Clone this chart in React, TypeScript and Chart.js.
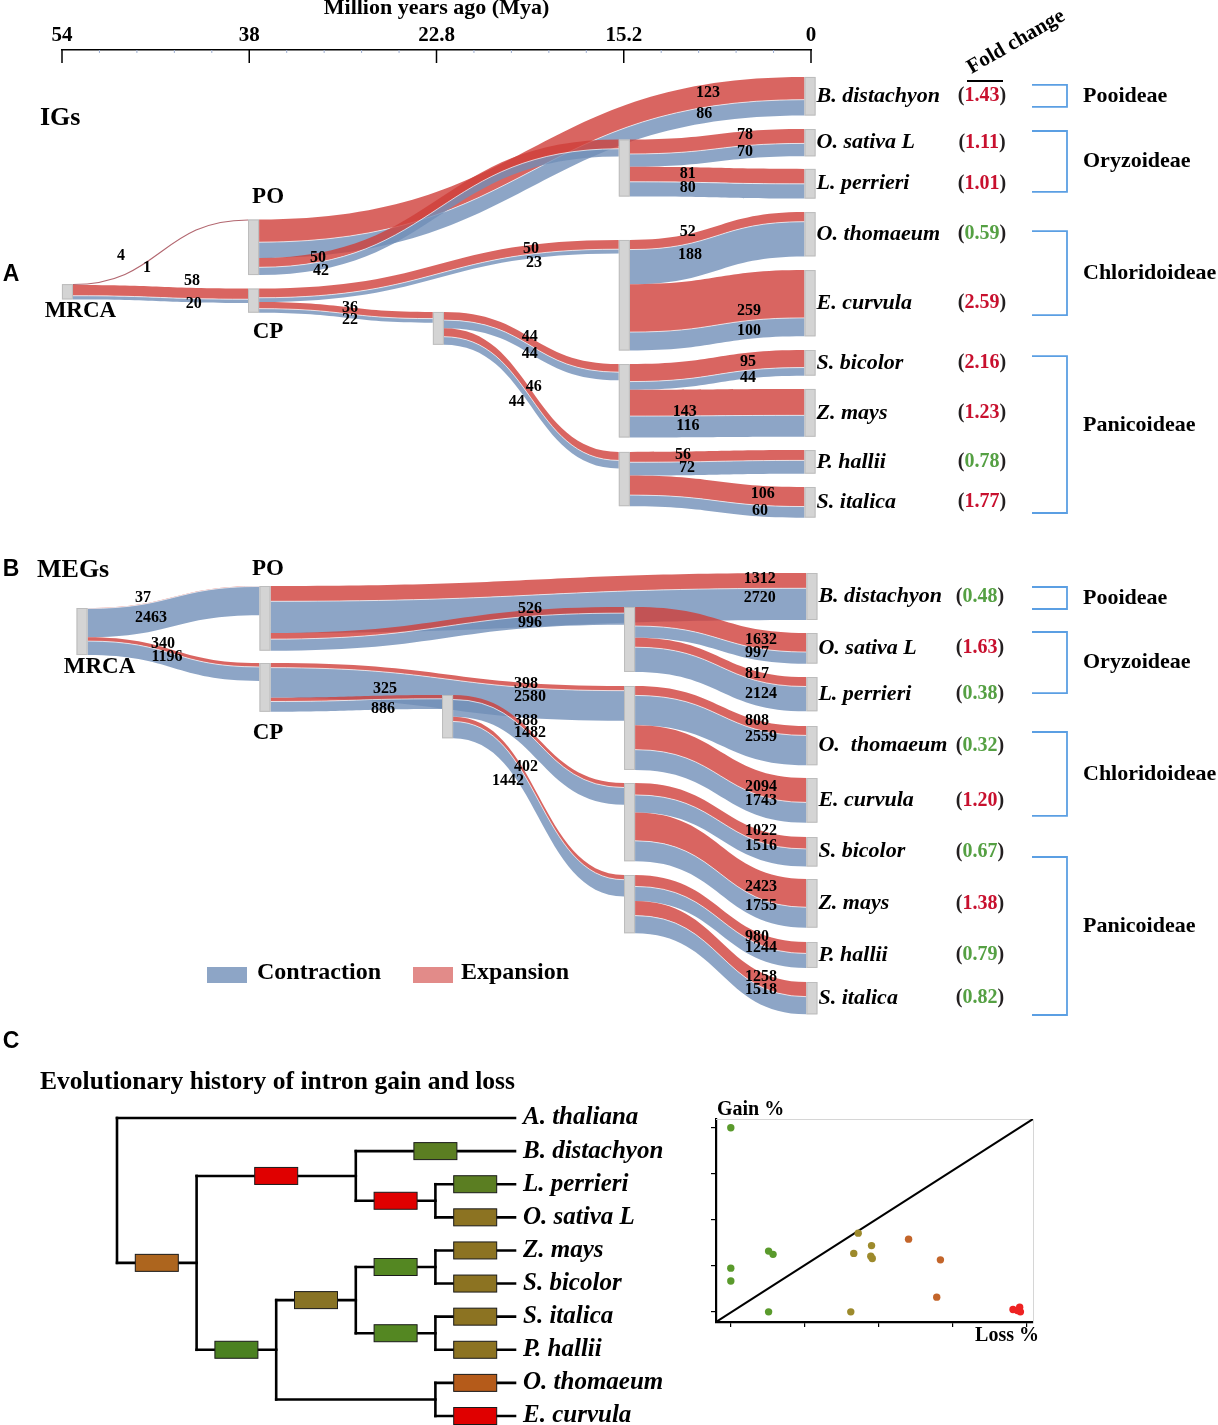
import React, { useEffect, useRef } from 'react';
import { Chart, registerables } from 'chart.js';

Chart.register(...registerables);

const SERIF = '"Liberation Serif", "Times New Roman", Times, serif';
const SANS = '"Liberation Sans", Arial, Helvetica, sans-serif';

// ---------------- shared topology of panels A and B ----------------
const timeTickLabels = ['54', '38', '22.8', '15.2', '0'];
const nodeNames = ['MRCA', 'PO', 'CP', 'N22', 'ORY', 'CHL', 'PAN1', 'PAN2',
  'Bdi', 'Osa', 'Lpe', 'Oth', 'Ecu', 'Sbi', 'Zma', 'Pha', 'Sit'];
const nodeColumn = [0, 1, 1, 2, 3, 3, 3, 3, 4, 4, 4, 4, 4, 4, 4, 4, 4];
const linkSource = [0, 0, 1, 1, 2, 2, 4, 4, 5, 5, 3, 3, 6, 6, 7, 7];
const linkTarget = [1, 2, 8, 4, 5, 3, 9, 10, 11, 12, 6, 7, 13, 14, 15, 16];
const speciesNames = ['B. distachyon', 'O. sativa L', 'L. perrieri', 'O. thomaeum', 'E. curvula',
  'S. bicolor', 'Z. mays', 'P. hallii', 'S. italica'];
const megSpeciesNames = ['B. distachyon', 'O. sativa L', 'L. perrieri', 'O.  thomaeum', 'E. curvula',
  'S. bicolor', 'Z. mays', 'P. hallii', 'S. italica'];
const subfamilies = ['Pooideae', 'Oryzoideae', 'Chloridoideae', 'Panicoideae'];
const subfamilyFirst = [0, 1, 3, 5];
const subfamilyLast = [0, 2, 4, 8];

// ---------------- panel A: IGs ----------------
const igExpansion = [4, 58, 123, 50, 50, 36, 78, 81, 52, 259, 44, 46, 95, 143, 56, 106];
const igContraction = [1, 20, 86, 42, 23, 22, 70, 80, 188, 100, 44, 44, 44, 116, 72, 60];
const igFoldChange = [1.43, 1.11, 1.01, 0.59, 2.59, 2.16, 1.23, 0.78, 1.77];
// node tops, in gene-count units of the panel's y scale
const igNodeTop = [1268, 918, 1292, 1419, 485, 1029, 1701, 2177, 146, 428, 644, 878, 1192, 1625, 1836, 2167, 2367];

// ---------------- panel B: MEGs ----------------
const megExpansion = [37, 340, 1312, 526, 398, 325, 1632, 817, 808, 2094, 388, 402, 1022, 2423, 980, 1258];
const megContraction = [2463, 1196, 2720, 996, 2580, 886, 997, 2124, 2559, 1743, 1482, 1442, 1516, 1755, 1244, 1518];
const megFoldChange = [0.48, 1.63, 0.38, 0.32, 1.20, 0.67, 1.38, 0.79, 0.82];
const megNodeTop = [6692, 4805, 11411, 14157, 6607, 13385, 21707, 29601, 3689, 8837, 12613, 16817, 21278, 26341, 29944, 35350, 38782];

// label placement along each link: [fraction red, dy red, fraction blue, dy blue]
const igLabelPos = [
  [0.274, -21, 0.423, 6], [0.68, -17.5, 0.69, 5.4], [0.823, -13.8, 0.816, 6.5], [0.164, -4, 0.172, 9.4],
  [0.756, -5, 0.764, 9.2], [0.523, -6, 0.523, 6], [0.659, -10.7, 0.659, 6.3], [0.332, -8.2, 0.332, 5.8],
  [0.332, -12, 0.344, 11.6], [0.682, -9.4, 0.682, 10.6], [0.491, -8, 0.491, 9], [0.514, -15, 0.417, 23],
  [0.676, -8.2, 0.676, 7.8], [0.315, -3.8, 0.332, 10.2], [0.304, -7, 0.327, 6], [0.761, -11.5, 0.745, 5.6],
];
const megLabelPos = [
  [0.323, -6.3, 0.369, 15.3], [0.439, -6.9, 0.462, 4.9], [0.913, -9.6, 0.913, 9.4], [0.734, -7.6, 0.734, 6.4],
  [0.723, -3.5, 0.734, 9.3], [0.668, -10.3, 0.656, 9.7], [0.735, -9.5, 0.711, 4.8], [0.711, -6.7, 0.735, 12.4],
  [0.711, -8.5, 0.735, 6.6], [0.735, -8.8, 0.735, 5.2], [0.427, -9.9, 0.45, -1.7], [0.427, -11, 0.322, 29.4],
  [0.735, -11.2, 0.735, 3.8], [0.735, -11.9, 0.735, 7.1], [0.711, -6.5, 0.735, 3], [0.735, -9.6, 0.735, 3.4],
];

// ---------------- panel C: tree ----------------
const treeLeafNames = ['A. thaliana', 'B. distachyon', 'L. perrieri', 'O. sativa L', 'Z. mays',
  'S. bicolor', 'S. italica', 'P. hallii', 'O. thomaeum', 'E. curvula'];
const leafParent = [0, 2, 4, 4, 6, 6, 7, 7, 8, 8];
const cladeParent = [-1, 0, 1, 1, 2, 3, 5, 5, 3];
const cladeDepth = [0, 1, 3, 2, 4, 3, 4, 4, 4];
const LEAF_DEPTH = 5;
const cladeBoxColor = [null, '#ad651e', '#e00000', '#4b8121', '#e00000', '#887325', '#548722', '#548722', null];
const leafBoxColor = [null, '#5b7e22', '#5b7e22', '#8c7322', '#8c7322', '#8c7322', '#8c7322', '#8c7322', '#b55b1a', '#e00000'];

// ---------------- panel C: scatter ----------------
const lossPct = [0, 0, 0, 0.51, 0.57, 0.51, 1.72, 1.66, 1.90, 1.89, 1.91, 1.62, 2.40, 2.83, 2.78, 3.81, 3.90, 3.91, 3.87];
const gainPct = [4.0, 0.95, 0.67, 1.32, 1.25, 0, 1.71, 1.27, 1.44, 1.21, 1.16, 0, 1.58, 1.13, 0.32, 0.05, 0.10, 0, 0.03];
const pointGroup = ['g', 'g', 'g', 'g', 'g', 'g', 'o', 'o', 'o', 'o', 'o', 'o', 'r', 'r', 'r', 'x', 'x', 'x', 'x'];
const LOSS_MIN = -0.2, LOSS_MAX = 4.08, GAIN_MIN = -0.22, GAIN_MAX = 4.19;

// ---------------- styles ----------------
const RED_BAND = 'rgba(207, 62, 58, 0.8)';
const BLUE_BAND = 'rgba(112, 142, 184, 0.8)';
const THIN_LINK = 'rgba(170, 85, 95, 0.9)';
const NODE_FILL = '#d4d4d4';
const NODE_EDGE = '#bdbdbd';
const UP_RED = '#c8102e';
const DOWN_GREEN = '#55a043';
const BRACKET = '#5b9fe3';
const NODE_W = 11;
const groupColor: Record<string, string> = { g: '#5a9a2c', o: '#9d8a2c', r: '#c3652a', x: '#ee2222' };

function solveT(f: number) {
  let lo = 0, hi = 1;
  for (let k = 0; k < 40; k++) {
    const m = (lo + hi) / 2;
    const g = 1.5 * m - 1.5 * m * m + m * m * m;
    if (g < f) lo = m; else hi = m;
  }
  return (lo + hi) / 2;
}
function curveAt(f: number, y0: number, y1: number) {
  const t = solveT(f);
  return y0 + (y1 - y0) * (3 * t * t - 2 * t * t * t);
}
function ribbon(ctx: CanvasRenderingContext2D, x0: number, x1: number, t0: number, t1: number, b0: number, b1: number, color: string) {
  const xm = (x0 + x1) / 2;
  ctx.beginPath();
  ctx.moveTo(x0, t0);
  ctx.bezierCurveTo(xm, t0, xm, t1, x1, t1);
  ctx.lineTo(x1, b1);
  ctx.bezierCurveTo(xm, b1, xm, b0, x0, b0);
  ctx.closePath();
  ctx.fillStyle = color;
  ctx.fill();
}
function txt(ctx: CanvasRenderingContext2D, s: string, x: number, y: number, font: string, color = '#000', align: CanvasTextAlign = 'left') {
  ctx.font = font;
  ctx.fillStyle = color;
  ctx.textAlign = align;
  ctx.textBaseline = 'middle';
  ctx.fillText(s, x, y);
}

interface Panel {
  exp: number[]; con: number[]; fold: number[]; nodeTop: number[]; colX: number[]; yMax: number;
  labelPos: number[][]; species: string[]; foldX: number; bracketOff: number[][]; groupDy: number[];
  nodeLabels: number[][]; tag: string; tagY: number; title: string; titleX: number; titleY: number;
  showAxis: boolean; legendY: number | null; foldHeader: boolean;
}

const panelA: Panel = {
  exp: igExpansion, con: igContraction, fold: igFoldChange, nodeTop: igNodeTop,
  colX: [0.029, 1.023, 2.01, 3.003, 3.995], yMax: 2600, labelPos: igLabelPos, species: speciesNames,
  foldX: 982, bracketOff: [[-11.3, 10.7], [-11.7, 8.1], [-3.2, 11.9], [-6.8, 10.7]], groupDy: [0, 0, 0, -9.5],
  nodeLabels: [[1, 14.5, -22.5, 0], [2, 14.5, 19.3, 1], [0, 13, 11.5, 1]],
  tag: 'A', tagY: 275, title: 'IGs', titleX: 40, titleY: 118, showAxis: true, legendY: null, foldHeader: true,
};
const panelB: Panel = {
  exp: megExpansion, con: megContraction, fold: megFoldChange, nodeTop: megNodeTop,
  colX: [0.107, 1.084, 2.059, 3.031, 4.005], yMax: 42900, labelPos: megLabelPos, species: megSpeciesNames,
  foldX: 980, bracketOff: [[-9.5, 12.5], [-16.3, -1.1], [-13.6, 15.6], [5.2, 16.8]], groupDy: [0, 0, 0, -10],
  nodeLabels: [[1, 3, -17, 0], [2, 3, 21, 1], [0, 17.5, 12, 1]],
  tag: 'B', tagY: 40, title: 'MEGs', titleX: 37, titleY: 40, showAxis: false, legendY: 445, foldHeader: false,
};

function sankeyPlugin(p: Panel) {
  return {
    id: 'sankeyDraw',
    afterDraw(chart: any) {
      const ctx: CanvasRenderingContext2D = chart.ctx;
      const xs = chart.scales.x, ys = chart.scales.y;
      const X = (c: number) => xs.getPixelForValue(p.colX[c]);
      const Y = (v: number) => ys.getPixelForValue(v);
      const n = nodeNames.length;
      const total = p.exp.map((e, i) => e + p.con[i]);
      const inSum = new Array(n).fill(0), outSum = new Array(n).fill(0);
      linkSource.forEach((s, i) => { outSum[s] += total[i]; inSum[linkTarget[i]] += total[i]; });
      const size = inSum.map((v, i) => Math.max(v, outSum[i]));
      const outOff = new Array(n).fill(0), inOff = new Array(n).fill(0);
      ctx.save();

      if (p.showAxis) {
        const yAxis = chart.chartArea.top;
        ctx.strokeStyle = '#000';
        ctx.lineWidth = 1.5;
        for (let v = 0; v <= 4; v++) {
          const x = xs.getPixelForValue(v);
          ctx.beginPath(); ctx.moveTo(x, yAxis); ctx.lineTo(x, yAxis + 13); ctx.stroke();
        }
        ctx.strokeStyle = '#9fb0d2';
        ctx.lineWidth = 1;
        for (let k = 1; k < 20; k++) {
          if (k % 5 === 0) continue;
          const x = xs.getPixelForValue(k / 5);
          ctx.beginPath(); ctx.moveTo(x, yAxis); ctx.lineTo(x, yAxis + 3); ctx.stroke();
        }
      }

      const labels: [string, number, number][] = [];
      linkSource.forEach((s, i) => {
        const t = linkTarget[i];
        const sTop = p.nodeTop[s] + outOff[s]; outOff[s] += total[i];
        const tTop = p.nodeTop[t] + inOff[t]; inOff[t] += total[i];
        const x0 = X(nodeColumn[s]) + NODE_W / 2, x1 = X(nodeColumn[t]) - NODE_W / 2;
        const xm = (x0 + x1) / 2;
        const a0 = Y(sTop), b0 = Y(sTop + p.exp[i]), c0 = Y(sTop + total[i]);
        const a1 = Y(tTop), b1 = Y(tTop + p.exp[i]), c1 = Y(tTop + total[i]);
        if (c0 - a0 < 1.6) {
          const m0 = (a0 + c0) / 2, m1 = (a1 + c1) / 2;
          ctx.beginPath(); ctx.moveTo(x0, m0); ctx.bezierCurveTo(xm, m0, xm, m1, x1, m1);
          ctx.strokeStyle = THIN_LINK; ctx.lineWidth = 1.1; ctx.stroke();
        } else {
          ribbon(ctx, x0, x1, a0, a1, b0, b1, RED_BAND);
          ribbon(ctx, x0, x1, b0, b1, c0, c1, BLUE_BAND);
          ctx.beginPath(); ctx.moveTo(x0, b0); ctx.bezierCurveTo(xm, b0, xm, b1, x1, b1);
          ctx.strokeStyle = 'rgba(255,255,255,0.75)'; ctx.lineWidth = 0.9; ctx.stroke();
        }
        const lp = p.labelPos[i];
        labels.push([String(p.exp[i]), x0 + lp[0] * (x1 - x0), curveAt(lp[0], b0, b1) + lp[1]]);
        labels.push([String(p.con[i]), x0 + lp[2] * (x1 - x0), curveAt(lp[2], b0, b1) + lp[3]]);
      });

      // nodes
      for (let i = 0; i < n; i++) {
        const x = X(nodeColumn[i]) - NODE_W / 2;
        const y = Y(p.nodeTop[i]);
        const h = Y(p.nodeTop[i] + size[i]) - y;
        ctx.fillStyle = NODE_FILL;
        ctx.fillRect(x, y, NODE_W, h);
        ctx.strokeStyle = NODE_EDGE; ctx.lineWidth = 1;
        ctx.strokeRect(x + 0.5, y + 0.5, NODE_W - 1, h - 1);
      }

      // value labels
      labels.forEach(([s, x, y]) => txt(ctx, s, x, y, `bold 16px ${SERIF}`, '#000', 'center'));

      // internal node names
      p.nodeLabels.forEach(([node, dx, dy, below]) => {
        const cx = X(nodeColumn[node]) + dx;
        const yRef = below ? Y(p.nodeTop[node] + size[node]) : Y(p.nodeTop[node]);
        txt(ctx, nodeNames[node], cx, yRef + dy, `bold 23px ${SERIF}`, '#000', 'center');
      });

      // species, fold change
      const leafX = X(4) + NODE_W / 2 + 1;
      const centers: number[] = [];
      p.species.forEach((name, j) => {
        const node = 8 + j;
        const cy = Y(p.nodeTop[node] + size[node] / 2);
        centers.push(cy);
        txt(ctx, name, leafX, cy, `italic bold 22px ${SERIF}`);
        const v = p.fold[j].toFixed(2);
        ctx.font = `bold 20px ${SERIF}`;
        const wl = ctx.measureText('(').width, wv = ctx.measureText(v).width, wr = ctx.measureText(')').width;
        const x = p.foldX - (wl + wv + wr) / 2;
        txt(ctx, '(', x, cy, `bold 20px ${SERIF}`, '#231f20');
        txt(ctx, v, x + wl, cy, `bold 20px ${SERIF}`, p.fold[j] >= 1 ? UP_RED : DOWN_GREEN);
        txt(ctx, ')', x + wl + wv, cy, `bold 20px ${SERIF}`, '#231f20');
      });

      // brackets
      subfamilies.forEach((g, k) => {
        const yTop = centers[subfamilyFirst[k]] + p.bracketOff[k][0];
        const yBot = centers[subfamilyLast[k]] + p.bracketOff[k][1];
        ctx.strokeStyle = BRACKET; ctx.lineWidth = 1.8;
        ctx.beginPath();
        ctx.moveTo(1032, yTop); ctx.lineTo(1067, yTop); ctx.lineTo(1067, yBot); ctx.lineTo(1032, yBot);
        ctx.stroke();
        txt(ctx, g, 1083, (yTop + yBot) / 2 + p.groupDy[k], `bold 22px ${SERIF}`);
      });

      // headers
      txt(ctx, p.tag, 11, p.tagY, `bold 23px ${SANS}`, '#000', 'center');
      txt(ctx, p.title, p.titleX, p.titleY, `bold 26px ${SERIF}`);

      if (p.foldHeader) {
        ctx.save();
        ctx.translate(1016, 42);
        ctx.rotate(-30 * Math.PI / 180);
        txt(ctx, 'Fold change', 0, 0, `bold 21px ${SERIF}`, '#000', 'center');
        ctx.restore();
        ctx.strokeStyle = '#000'; ctx.lineWidth = 2;
        ctx.beginPath(); ctx.moveTo(967, 81); ctx.lineTo(1003, 81); ctx.stroke();
      }

      if (p.legendY !== null) {
        const ly = p.legendY;
        ctx.fillStyle = BLUE_BAND; ctx.fillRect(207, ly - 8, 40, 16);
        txt(ctx, 'Contraction', 257, ly - 2, `bold 24px ${SERIF}`);
        ctx.fillStyle = 'rgba(207, 62, 58, 0.6)'; ctx.fillRect(413, ly - 8, 40, 16);
        txt(ctx, 'Expansion', 461, ly - 2, `bold 24px ${SERIF}`);
      }
      ctx.restore();
    },
  };
}

function sankeyConfig(p: Panel): any {
  const x: any = {
    type: 'linear', position: 'top', min: 0, max: 4, display: p.showAxis,
    grid: { display: false, drawTicks: false },
    border: { display: true, color: '#000', width: 1.5 },
    ticks: {
      stepSize: 1, autoSkip: false, maxRotation: 0, padding: 2, color: '#000',
      font: { family: SERIF, size: 21, weight: 'bold' },
      callback: (v: number) => (Number.isInteger(v) ? timeTickLabels[v] : ''),
    },
    title: {
      display: true, text: 'Million years ago (Mya)', color: '#000',
      font: { family: SERIF, size: 22, weight: 'bold' }, padding: { top: -5, bottom: 0 },
    },
  };
  if (p.showAxis) x.afterFit = (s: any) => { s.height = 50; };
  return {
    type: 'scatter',
    data: { datasets: [] },
    options: {
      responsive: false, animation: false,
      layout: { padding: { left: 62, right: 407, top: 0, bottom: 0 } },
      plugins: { legend: { display: false }, tooltip: { enabled: false } },
      scales: {
        x,
        y: { type: 'linear', display: false, reverse: true, min: 0, max: p.yMax },
      },
    },
    plugins: [sankeyPlugin(p)],
  };
}

const treePlugin = {
  id: 'treeDraw',
  afterDraw(chart: any) {
    const ctx: CanvasRenderingContext2D = chart.ctx;
    const xs = chart.scales.x, ys = chart.scales.y;
    const X = (d: number) => xs.getPixelForValue(d);
    const Y = (v: number) => ys.getPixelForValue(v);
    const nC = cladeParent.length;
    const cladeRow = new Array(nC).fill(0);
    const kidsRows: number[][] = Array.from({ length: nC }, () => []);
    const rowOf = (c: number): number => {
      const rows: number[] = [];
      leafParent.forEach((par, j) => { if (par === c) rows.push(j); });
      cladeParent.forEach((par, k) => { if (par === c) rows.push(rowOf(k)); });
      kidsRows[c] = rows;
      cladeRow[c] = rows.reduce((a, b) => a + b, 0) / rows.length;
      return cladeRow[c];
    };
    rowOf(0);
    ctx.save();
    ctx.strokeStyle = '#000';
    ctx.lineWidth = 2.6;
    ctx.lineCap = 'square';
    const boxes: [number, number, string][] = [];
    const branch = (d0: number, d1: number, row: number, color: string | null) => {
      const y = Y(row);
      ctx.beginPath(); ctx.moveTo(X(d0), y); ctx.lineTo(X(d1), y); ctx.stroke();
      if (color) boxes.push([(X(d0) + X(d1)) / 2, y, color]);
    };
    for (let k = 0; k < nC; k++) {
      const rows = kidsRows[k];
      const x = X(cladeDepth[k]);
      ctx.beginPath(); ctx.moveTo(x, Y(Math.min(...rows))); ctx.lineTo(x, Y(Math.max(...rows))); ctx.stroke();
      if (cladeParent[k] >= 0) branch(cladeDepth[cladeParent[k]], cladeDepth[k], cladeRow[k], cladeBoxColor[k]);
    }
    treeLeafNames.forEach((name, j) => {
      branch(cladeDepth[leafParent[j]], LEAF_DEPTH, j, leafBoxColor[j]);
      txt(ctx, name, X(LEAF_DEPTH) + 8, Y(j), `italic bold 25px ${SERIF}`);
    });
    boxes.forEach(([cx, cy, color]) => {
      ctx.fillStyle = color;
      ctx.fillRect(cx - 21.5, cy - 8.5, 43, 17);
      ctx.strokeStyle = '#1a1a1a'; ctx.lineWidth = 1;
      ctx.strokeRect(cx - 21.5, cy - 8.5, 43, 17);
    });
    txt(ctx, 'C', 11, 12, `bold 23px ${SANS}`, '#000', 'center');
    const title = 'Evolutionary history of intron gain and loss';
    ctx.font = `bold 26px ${SERIF}`;
    const w = ctx.measureText(title).width;
    ctx.save();
    ctx.translate(40, 52);
    ctx.scale(475 / w, 1);
    txt(ctx, title, 0, 0, `bold 26px ${SERIF}`);
    ctx.restore();
    ctx.restore();
  },
};

const scatterTextPlugin = {
  id: 'scatterText',
  afterDraw(chart: any) {
    const ctx: CanvasRenderingContext2D = chart.ctx;
    const a = chart.chartArea;
    ctx.save();
    txt(ctx, 'Gain %', a.left + 1, a.top - 9, `bold 20px ${SERIF}`);
    txt(ctx, 'Loss %', a.right + 6, a.bottom + 14, `bold 20px ${SERIF}`, '#000', 'right');
    ctx.restore();
  },
};

function scatterConfig(): any {
  const tickAxis = (pos: string, min: number, max: number) => ({
    type: 'linear', position: pos, min, max,
    ticks: { display: false, stepSize: 1, includeBounds: false },
    grid: { display: true, drawOnChartArea: false, drawTicks: true, tickLength: 5, color: '#000', lineWidth: 1.2 },
    border: { display: true, color: '#000', width: 2.2 },
  });
  const frameAxis = (pos: string, axis: string, min: number, max: number) => ({
    type: 'linear', position: pos, axis, min, max,
    ticks: { display: false }, grid: { display: false, drawTicks: false },
    border: { display: true, color: '#d6d6d6', width: 1 },
  });
  return {
    type: 'scatter',
    data: {
      datasets: [
        {
          data: lossPct.map((x, i) => ({ x, y: gainPct[i] })),
          backgroundColor: pointGroup.map((g) => groupColor[g]),
          pointRadius: 3.7, borderWidth: 0,
        },
        {
          type: 'line',
          data: [{ x: LOSS_MIN, y: GAIN_MIN }, { x: LOSS_MAX, y: GAIN_MAX }],
          borderColor: '#000', borderWidth: 2, pointRadius: 0, fill: false,
        },
      ],
    },
    options: {
      responsive: false, animation: false,
      layout: { padding: { left: 21, right: 27, top: 29, bottom: 23 } },
      plugins: { legend: { display: false }, tooltip: { enabled: false } },
      scales: {
        x: tickAxis('bottom', LOSS_MIN, LOSS_MAX),
        y: tickAxis('left', GAIN_MIN, GAIN_MAX),
        x2: frameAxis('top', 'x', LOSS_MIN, LOSS_MAX),
        y2: frameAxis('right', 'y', GAIN_MIN, GAIN_MAX),
      },
    },
    plugins: [scatterTextPlugin],
  };
}

function treeConfig(): any {
  return {
    type: 'scatter',
    data: { datasets: [] },
    options: {
      responsive: false, animation: false,
      layout: { padding: { left: 117, right: 175, top: 88, bottom: 9 } },
      plugins: { legend: { display: false }, tooltip: { enabled: false } },
      scales: {
        x: { type: 'linear', display: false, min: 0, max: LEAF_DEPTH },
        y: { type: 'linear', display: false, min: 0, max: treeLeafNames.length - 1, reverse: true },
      },
    },
    plugins: [treePlugin],
  };
}

export default function App() {
  const aRef = useRef<HTMLCanvasElement>(null);
  const bRef = useRef<HTMLCanvasElement>(null);
  const tRef = useRef<HTMLCanvasElement>(null);
  const sRef = useRef<HTMLCanvasElement>(null);
  useEffect(() => {
    Chart.defaults.font.family = SERIF;
    const charts = [
      new Chart(aRef.current as HTMLCanvasElement, sankeyConfig(panelA)),
      new Chart(bRef.current as HTMLCanvasElement, sankeyConfig(panelB)),
      new Chart(tRef.current as HTMLCanvasElement, treeConfig()),
      new Chart(sRef.current as HTMLCanvasElement, scatterConfig()),
    ];
    return () => charts.forEach((c) => c.destroy());
  }, []);
  const abs = (left: number, top: number): React.CSSProperties => ({ position: 'absolute', left, top });
  return (
    <div style={{ position: 'absolute', left: 0, top: 0, width: 1218, height: 1425, background: '#fff', overflow: 'hidden' }}>
      <canvas ref={aRef} width={1218} height={530} style={abs(0, 0)} />
      <canvas ref={bRef} width={1218} height={500} style={abs(0, 530)} />
      <canvas ref={tRef} width={690} height={395} style={abs(0, 1030)} />
      <canvas ref={sRef} width={370} height={260} style={abs(690, 1090)} />
    </div>
  );
}
